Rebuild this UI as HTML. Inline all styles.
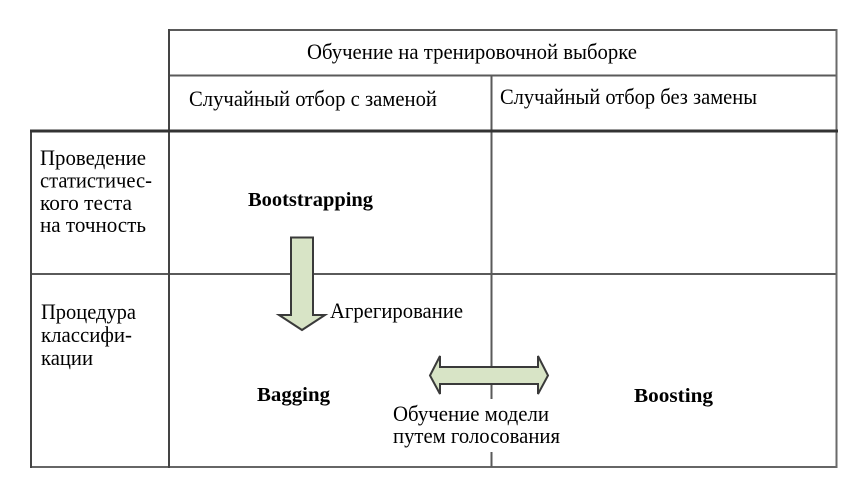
<!DOCTYPE html>
<html>
<head>
<meta charset="utf-8">
<style>
html,body{margin:0;padding:0;background:#fff;}
body{width:855px;height:478px;overflow:hidden;}
svg{display:block;}
text{font-family:"Liberation Serif","Noto Serif CJK SC",serif;fill:#000;}
.b{font-weight:bold;}
</style>
</head>
<body>
<svg width="855" height="478" viewBox="0 0 855 478" xmlns="http://www.w3.org/2000/svg">
  <rect width="855" height="478" fill="#fff"/>
  <!-- grid lines -->
  <g stroke="#5a5a5a" stroke-width="2" fill="none">
    <line x1="168" y1="30" x2="837" y2="30"/>
    <line x1="168" y1="75.5" x2="837" y2="75.5"/>
    <line x1="30" y1="274" x2="837" y2="274"/>
    <line x1="30" y1="467" x2="837" y2="467" stroke="#666"/>
    <line x1="31" y1="130" x2="31" y2="468" stroke="#444"/>
    <line x1="169" y1="29" x2="169" y2="468" stroke="#444"/>
    <line x1="491.5" y1="75" x2="491.5" y2="467"/>
    <line x1="836.5" y1="29" x2="836.5" y2="468" stroke="#6a6a6a"/>
  </g>
  <line x1="30" y1="131" x2="838" y2="131" stroke="#333" stroke-width="3"/>

  <!-- white gap behind bottom text -->
  <rect x="486" y="399" width="12" height="53" fill="#fff"/>

  <!-- down arrow -->
  <polygon points="291,237.5 313,237.5 313,315 325,315 302,330 279,315 291,315"
           fill="#d8e4c6" stroke="#3a3a3a" stroke-width="2" stroke-linejoin="miter"/>
  <!-- double arrow -->
  <polygon points="430,375.5 440,356 440,367 538,367 538,356 548,375.5 538,394 538,384 440,384 440,394"
           fill="#d8e4c6" stroke="#3a3a3a" stroke-width="2" stroke-linejoin="miter"/>

  <!-- header text -->
  <text x="307" y="59" font-size="22" textLength="330" lengthAdjust="spacingAndGlyphs">Обучение на тренировочной выборке</text>
  <text x="189" y="106" font-size="22" textLength="248" lengthAdjust="spacingAndGlyphs">Случайный отбор с заменой</text>
  <text x="500" y="104" font-size="22" textLength="257" lengthAdjust="spacingAndGlyphs">Случайный отбор без замены</text>

  <!-- left labels -->
  <text x="40" y="165" font-size="22" textLength="106" lengthAdjust="spacingAndGlyphs">Проведение</text>
  <text x="40" y="187.5" font-size="22" textLength="112" lengthAdjust="spacingAndGlyphs">статистичес-</text>
  <text x="40" y="210" font-size="22" textLength="92" lengthAdjust="spacingAndGlyphs">кого теста</text>
  <text x="40" y="232" font-size="22" textLength="106" lengthAdjust="spacingAndGlyphs">на точность</text>

  <text x="41" y="319" font-size="22" textLength="95" lengthAdjust="spacingAndGlyphs">Процедура</text>
  <text x="41" y="342" font-size="22" textLength="91" lengthAdjust="spacingAndGlyphs">классифи-</text>
  <text x="41" y="365" font-size="22" textLength="52" lengthAdjust="spacingAndGlyphs">кации</text>

  <!-- bold labels -->
  <text class="b" x="248" y="206" font-size="20" textLength="125" lengthAdjust="spacingAndGlyphs">Bootstrapping</text>
  <text class="b" x="257" y="401" font-size="20" textLength="73" lengthAdjust="spacingAndGlyphs">Bagging</text>
  <text class="b" x="634" y="402" font-size="20" textLength="79" lengthAdjust="spacingAndGlyphs">Boosting</text>

  <!-- connector labels -->
  <text x="330" y="318" font-size="22" textLength="133" lengthAdjust="spacingAndGlyphs">Агрегирование</text>
  <text x="393" y="421" font-size="22" textLength="156" lengthAdjust="spacingAndGlyphs">Обучение модели</text>
  <text x="393" y="443" font-size="22" textLength="167" lengthAdjust="spacingAndGlyphs">путем голосования</text>
</svg>
</body>
</html>
